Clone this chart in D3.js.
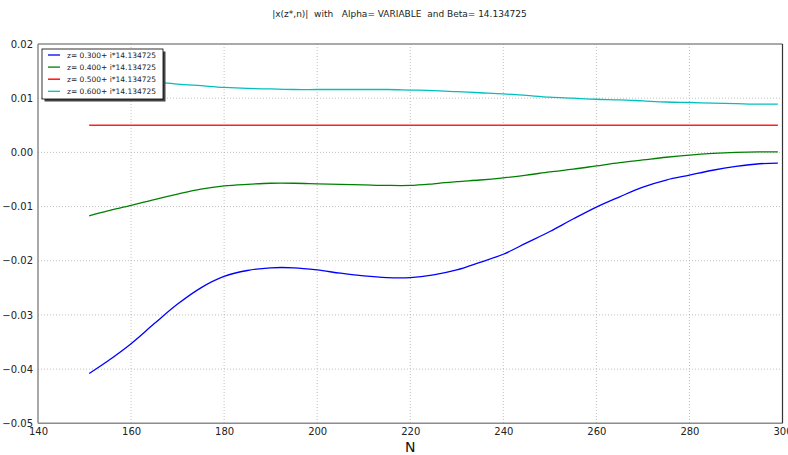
<!DOCTYPE html>
<html>
<head>
<meta charset="utf-8">
<script src="https://cdn.jsdelivr.net/npm/d3@7"></script>
<style>
  html, body { margin: 0; padding: 0; background: #fff; }
  svg { display: block; font-family: "DejaVu Sans", sans-serif; }
  text { white-space: pre; }
</style>
</head>
<body>
<svg id="chart" width="788" height="455"></svg>
<script>
// Sample positions along N
const nValues = [151, 155, 160, 165, 170, 175, 180, 185, 190, 195, 200, 205, 210, 215, 220,
                 225, 230, 235, 240, 245, 250, 255, 260, 265, 270, 275, 280, 285, 290, 295, 299];

// |x(z*,n)| for each real part of z
const seriesLabels = ["z= 0.300+ i*14.134725", "z= 0.400+ i*14.134725",
                      "z= 0.500+ i*14.134725", "z= 0.600+ i*14.134725"];
const seriesColors = ["#0000ff", "#008000", "#ff2020", "#00bfbf"];

const z300 = [-0.0408, -0.0385, -0.0353, -0.0316, -0.0280, -0.0250, -0.0229, -0.0218, -0.0213, -0.0213,
              -0.0217, -0.0223, -0.0228, -0.0231, -0.0231, -0.0226, -0.0217, -0.0203, -0.0188, -0.0167,
              -0.0146, -0.0123, -0.0101, -0.0082, -0.0064, -0.0051, -0.0042, -0.0033, -0.0026, -0.0021, -0.0020];
const z400 = [-0.0117, -0.0108, -0.0098, -0.0087, -0.0077, -0.0068, -0.0062, -0.0059, -0.0057, -0.0057,
              -0.0058, -0.0059, -0.0060, -0.0061, -0.0061, -0.0058, -0.0054, -0.0051, -0.0047, -0.0042,
              -0.0036, -0.0031, -0.0025, -0.0019, -0.0014, -0.0009, -0.0005, -0.0002, 0.0000, 0.0001, 0.0001];
const z500 = [0.005, 0.005, 0.005, 0.005, 0.005, 0.005, 0.005, 0.005, 0.005, 0.005,
              0.005, 0.005, 0.005, 0.005, 0.005, 0.005, 0.005, 0.005, 0.005, 0.005,
              0.005, 0.005, 0.005, 0.005, 0.005, 0.005, 0.005, 0.005, 0.005, 0.005, 0.005];
const z600 = [0.0143, 0.0139, 0.0134, 0.0130, 0.0126, 0.0123, 0.0120, 0.0118, 0.0117, 0.0116,
              0.0116, 0.0116, 0.0116, 0.0116, 0.0115, 0.0114, 0.0112, 0.0110, 0.0108, 0.0105,
              0.0102, 0.0100, 0.0098, 0.0097, 0.0095, 0.0093, 0.0092, 0.0091, 0.0090, 0.0089, 0.0089];

const xTicks = [140, 160, 180, 200, 220, 240, 260, 280, 300];
const yTicks = [0.02, 0.01, 0.00, -0.01, -0.02, -0.03, -0.04, -0.05];

const titleText = "|x(z*,n)|  with   Alpha= VARIABLE  and Beta= 14.134725";
const xLabel = "N";

const W = 788, H = 455;
const margin = { left: 38, right: 5.5, top: 44, bottom: 31.7 };

const svg = d3.select("#chart");
const x = d3.scaleLinear().domain([140, 300]).range([margin.left, W - margin.right]);
const y = d3.scaleLinear().domain([-0.05, 0.02]).range([H - margin.bottom, margin.top]);

// grid
const grid = svg.append("g").attr("stroke", "#b0b0b0").attr("stroke-width", 0.8)
  .attr("stroke-dasharray", "1,2");
xTicks.slice(1, -1).forEach(t => grid.append("line")
  .attr("x1", x(t)).attr("x2", x(t)).attr("y1", y(0.02)).attr("y2", y(-0.05)));
yTicks.slice(1, -1).forEach(t => grid.append("line")
  .attr("x1", x(140)).attr("x2", x(300)).attr("y1", y(t)).attr("y2", y(t)));

// axes
const fmtY = d => d3.format(".2f")(d).replace("-", "\u2212");
const xAxis = d3.axisBottom(x).tickValues(xTicks).tickSize(0).tickPadding(5).tickFormat(d3.format("d"));
const yAxis = d3.axisLeft(y).tickValues(yTicks).tickSize(0).tickPadding(5).tickFormat(fmtY);

const gx = svg.append("g").attr("transform", `translate(0,${y(-0.05)})`).call(xAxis);
const gy = svg.append("g").attr("transform", `translate(${x(140)},0)`).call(yAxis);
[gx, gy].forEach(g => {
  g.select(".domain").remove();
  g.selectAll("text").attr("font-size", 10).attr("fill", "#222")
    .attr("font-family", "DejaVu Sans, sans-serif");
});

// series lines
const allSeries = [z300, z400, z500, z600];
const line = d3.line().x((d, i) => x(nValues[i])).y(d => y(d)).curve(d3.curveCatmullRom.alpha(0.5));
allSeries.forEach((vals, k) => {
  svg.append("path").datum(vals)
    .attr("fill", "none").attr("stroke", seriesColors[k]).attr("stroke-width", k === 2 ? 1.6 : 1.3)
    .attr("d", line);
});

// frame
const frame = svg.append("g").attr("fill", "none");
frame.append("line").attr("x1", x(140)).attr("x2", x(300)).attr("y1", y(0.02)).attr("y2", y(0.02))
  .attr("stroke", "#8c8c8c").attr("stroke-width", 1.5);
frame.append("line").attr("x1", x(140)).attr("x2", x(300)).attr("y1", y(-0.05)).attr("y2", y(-0.05))
  .attr("stroke", "#8c8c8c").attr("stroke-width", 1.5);
frame.append("line").attr("x1", x(140)).attr("x2", x(140)).attr("y1", y(0.02)).attr("y2", y(-0.05))
  .attr("stroke", "#8c8c8c").attr("stroke-width", 1.5);
frame.append("line").attr("x1", x(300)).attr("x2", x(300)).attr("y1", y(0.02)).attr("y2", y(-0.05))
  .attr("stroke", "#333").attr("stroke-width", 1.2);

// legend
const lg = svg.append("g").attr("transform", "translate(42,49)");
const lgW = 121, lgH = 50;
lg.append("rect").attr("x", 2.5).attr("y", 2.5).attr("width", lgW).attr("height", lgH).attr("fill", "#444");
lg.append("rect").attr("width", lgW).attr("height", lgH).attr("fill", "#fff")
  .attr("stroke", "#000").attr("stroke-width", 0.8);
seriesLabels.forEach((lab, k) => {
  const yy = 6 + k * 12.1;
  lg.append("line").attr("x1", 6).attr("x2", 18).attr("y1", yy).attr("y2", yy)
    .attr("stroke", seriesColors[k]).attr("stroke-width", k === 2 ? 1.6 : 1.3);
  lg.append("text").attr("x", 25).attr("y", yy + 3).attr("font-size", 7.5).attr("fill", "#222").text(lab);
});

// title and axis label
svg.append("text").attr("x", 399.5).attr("y", 17).attr("text-anchor", "middle")
  .attr("font-size", 9).attr("fill", "#222").text(titleText);
svg.append("text").attr("x", x(220)).attr("y", 452).attr("text-anchor", "middle")
  .attr("font-size", 14).attr("fill", "#111").text(xLabel);
</script>
</body>
</html>
